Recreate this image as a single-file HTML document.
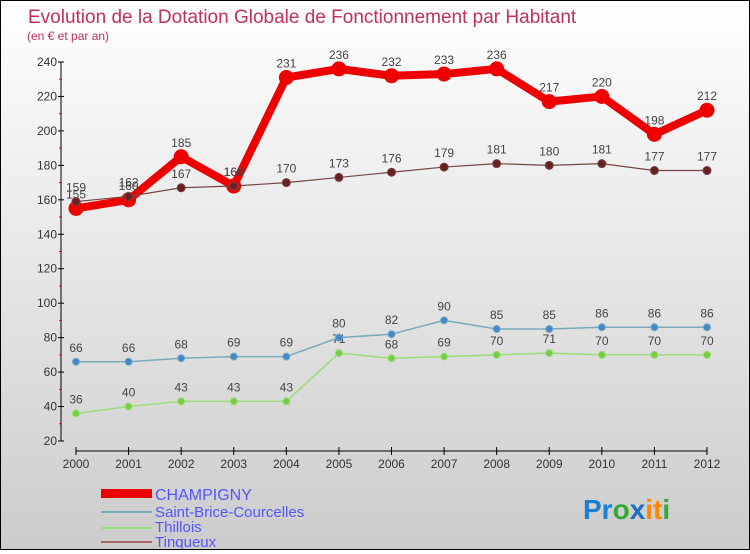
<!DOCTYPE html>
<html><head><meta charset="utf-8"><style>
body{margin:0}
#c{width:748px;height:548px;border:1px solid #000;background:linear-gradient(#fff,#ccc);position:relative;font-family:"Liberation Sans",sans-serif}
svg text{font-family:"Liberation Sans",sans-serif}
</style></head><body>
<div id="c">
<svg id="s" width="748" height="548">
<text x="27" y="22" font-size="19" fill="#c0305a">Evolution de la Dotation Globale de Fonctionnement par Habitant</text>
<text x="26" y="39" font-size="12" fill="#c0305a">(en € et par an)</text>
<g id="g"></g>
<g>
<rect x="100" y="488" width="51" height="9" fill="#e00"/>
<text x="154" y="499" font-size="16" fill="#55f">CHAMPIGNY</text>
<line x1="100" y1="511" x2="151" y2="511" stroke="#7ab" stroke-width="2"/>
<text x="154" y="516" font-size="15" fill="#55f">Saint-Brice-Courcelles</text>
<line x1="100" y1="527" x2="151" y2="527" stroke="#9d7" stroke-width="2"/>
<text x="154" y="531" font-size="15" fill="#55f">Thillois</text>
<line x1="100" y1="541" x2="151" y2="541" stroke="#a66" stroke-width="2"/>
<text x="154" y="546" font-size="15" fill="#55f">Tinqueux</text>
</g>
<text x="582" y="518" font-size="28" font-weight="bold"><tspan fill="#1a7fd0">Pr</tspan><tspan fill="#3a3">o</tspan><tspan fill="#1a6fc0">x</tspan><tspan fill="#f80">it</tspan><tspan fill="#3a3">i</tspan></text>
</svg></div>
<script>
const years=[2000,2001,2002,2003,2004,2005,2006,2007,2008,2009,2010,2011,2012];
const champigny=[155,160,185,168,231,236,232,233,236,217,220,198,212];
const saintBrice=[66,66,68,69,69,80,82,90,85,85,86,86,86];
const thillois=[36,40,43,43,43,71,68,69,70,71,70,70,70];
const tinqueux=[159,162,167,168,170,173,176,179,181,180,181,177,177];
const yTicks=[20,40,60,80,100,120,140,160,180,200,220,240];
const NS="http://www.w3.org/2000/svg",g=document.getElementById('g');
const xs=i=>75+i*(706-75)/12, ys=v=>440-(v-20)*(440-61)/220;
function mk(t,a,p){const e=document.createElementNS(NS,t);for(const k in a)e.setAttribute(k,a[k]);(p||g).appendChild(e);return e;}
let e=mk('line',{x1:60,y1:ys(240),x2:60,y2:ys(20),stroke:'#000'});


e=mk('line',{x1:75,y1:450,x2:706,y2:450,stroke:'#000'});


yTicks.forEach(v=>{
 mk('line',{x1:57,y1:ys(v),x2:63,y2:ys(v),stroke:'#000'});
 if(v<240)mk('line',{x1:58,y1:ys(v+10),x2:61,y2:ys(v+10),stroke:'#f00'});
 e=mk('text',{x:56,y:ys(v)+4,'font-size':12,fill:'#333','text-anchor':'end'});e.textContent=v;
 
 
});
years.forEach((y,i)=>{
 mk('line',{x1:xs(i),y1:446,x2:xs(i),y2:454,stroke:'#000'});
 e=mk('text',{x:xs(i),y:467,'font-size':12,fill:'#333','text-anchor':'middle'});e.textContent=y;
 
 
});
function series(d,col,w,r,dot,name){
 e=mk('polyline',{points:d.map((v,i)=>xs(i)+','+ys(v)).join(' '),fill:'none',stroke:col,'stroke-width':w,'stroke-linejoin':'round'});
 
 
 d.forEach((v,i)=>{
  e=mk('circle',{cx:xs(i),cy:ys(v),r:r,fill:dot,stroke:col,'stroke-width':1});
  
  
  e=mk('text',{x:xs(i),y:ys(v)-10,'font-size':12,fill:'#444','text-anchor':'middle'});e.textContent=v;
  
  
 });
}
series(thillois,'#9d7',1.5,3.5,'#7c4','thillois');
series(saintBrice,'#7ab',1.5,3.5,'#48c','saint-brice');
series(champigny,'#e00',8,7,'#e00','champigny');
series(tinqueux,'#744',1.2,4,'#622','tinqueux');
</script></body></html>
